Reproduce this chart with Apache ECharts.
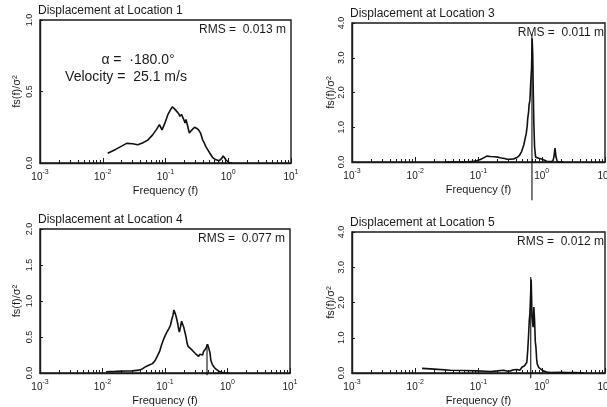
<!DOCTYPE html>
<html>
<head>
<meta charset="utf-8">
<script src="https://cdn.jsdelivr.net/npm/echarts@6/dist/echarts.min.js"></script>
<style>
html,body{margin:0;padding:0;background:#fff;}
#chart{width:607px;height:407px;}
</style>
</head>
<body>
<div id="chart"></div>
<script>
// ---- data ----
const panelTitles = ['Displacement at Location 1', 'Displacement at Location 3', 'Displacement at Location 4', 'Displacement at Location 5'];
const rmsLabels = ['RMS =  0.013 m', 'RMS =  0.011 m', 'RMS =  0.077 m', 'RMS =  0.012 m'];
const annotationLines = ['α =  ·180.0°', 'Velocity =  25.1 m/s'];
const xTickValues = [0.001, 0.01, 0.1, 1, 10];
const xTickExponents = ['-3', '-2', '-1', '0', '1'];
const xMinorTicks = [0.002,0.003,0.004,0.005,0.006,0.007,0.008,0.009,
  0.02,0.03,0.04,0.05,0.06,0.07,0.08,0.09,
  0.2,0.3,0.4,0.5,0.6,0.7,0.8,0.9,
  2,3,4,5,6,7,8,9];
const yMaxes = [1.0, 4.0, 2.0, 4.0];
const yIntervals = [0.5, 1.0, 0.5, 1.0];

const loc1Freq = [0.012,0.016,0.020,0.024,0.030,0.036,0.043,0.052,0.062,0.072,0.080,0.088,0.097,0.109,0.120,0.128,0.138,0.151,0.162,0.170,0.180,0.188,0.197,0.205,0.212,0.218,0.228,0.240,0.255,0.270,0.290,0.306,0.322,0.345,0.365,0.39,0.415,0.44,0.475,0.51,0.56,0.62,0.72,0.78,0.83,0.88,0.92,0.98,1.04,1.15];
const loc1Val  = [0.068,0.095,0.118,0.137,0.135,0.128,0.140,0.160,0.195,0.235,0.268,0.232,0.275,0.338,0.372,0.392,0.380,0.361,0.345,0.326,0.340,0.338,0.300,0.279,0.305,0.303,0.250,0.209,0.225,0.232,0.250,0.256,0.240,0.225,0.205,0.162,0.140,0.115,0.090,0.068,0.040,0.025,0.016,0.030,0.049,0.035,0.021,0.008,0.002,0];

const loc3Freq = [0.03,0.05,0.07,0.084,0.095,0.107,0.12,0.135,0.145,0.155,0.164,0.18,0.20,0.22,0.24,0.26,0.28,0.32,0.36,0.40,0.44,0.48,0.52,0.55,0.57,0.59,0.60,0.62,0.63,0.65,0.67,0.69,0.705,0.72,0.735,0.75,0.77,0.80,0.85,0.90,0.96,1.02,1.08,1.2,1.38,1.5,1.56,1.62,1.68,1.76,1.9,2.2];
const loc3Val  = [0,0,0.005,0.02,0.04,0.07,0.12,0.17,0.18,0.16,0.14,0.15,0.14,0.12,0.11,0.10,0.08,0.08,0.09,0.12,0.18,0.30,0.49,0.70,0.83,1.05,1.25,1.45,1.64,1.78,2.30,2.70,3.55,3.10,2.00,1.10,0.44,0.14,0.12,0.11,0.14,0.08,0.04,0.02,0.01,0.03,0.15,0.40,0.15,0.01,0,0];

const loc4Freq = [0.0114,0.016,0.0238,0.030,0.0386,0.044,0.049,0.056,0.063,0.069,0.075,0.082,0.088,0.095,0.102,0.109,0.116,0.122,0.128,0.134,0.139,0.144,0.148,0.155,0.161,0.166,0.170,0.175,0.18,0.184,0.188,0.194,0.199,0.208,0.217,0.225,0.234,0.25,0.27,0.29,0.306,0.325,0.345,0.36,0.38,0.40,0.414,0.43,0.45,0.465,0.48,0.495,0.51,0.525,0.54,0.57,0.6,0.64,0.68,0.74,0.81,0.9,1.04];
const loc4Val  = [0.018,0.022,0.028,0.03,0.04,0.06,0.088,0.11,0.13,0.17,0.23,0.30,0.39,0.47,0.53,0.58,0.62,0.66,0.74,0.80,0.875,0.85,0.81,0.74,0.67,0.60,0.57,0.62,0.67,0.72,0.74,0.70,0.64,0.57,0.50,0.42,0.37,0.35,0.32,0.30,0.27,0.25,0.23,0.26,0.27,0.25,0.30,0.28,0.34,0.32,0.40,0.36,0.34,0.28,0.18,0.12,0.09,0.06,0.04,0.02,0.01,0.003,0];

const loc5Freq = [0.0128,0.02,0.036,0.06,0.095,0.13,0.155,0.2,0.25,0.29,0.32,0.36,0.41,0.45,0.49,0.53,0.56,0.58,0.60,0.62,0.635,0.65,0.665,0.68,0.69,0.70,0.71,0.73,0.75,0.77,0.79,0.81,0.83,0.85,0.9,0.96,1.05,1.2,1.38,2.0,2.5,3.5,4.7];
const loc5Val  = [0.13,0.11,0.08,0.07,0.06,0.05,0.04,0.06,0.08,0.05,0.06,0.09,0.10,0.08,0.17,0.20,0.24,0.30,0.63,1.10,1.49,1.70,2.15,2.65,2.2,1.6,1.58,1.3,1.87,1.5,0.9,0.72,0.4,0.25,0.15,0.13,0.06,0.03,0.01,0.02,0.01,0.01,0];

// vertical marker lines [freq, yTop, yBottom]
const markerLoc3 = [0.70, 3.68, -1.1];
const markerLoc4 = [0.47, 0.40, -0.03];
const markerLoc5 = [0.67, 2.72, -0.15];

// ---- layout ----
const grids = [
  {left: 40, top: 20, width: 251, height: 143},
  {left: 352, top: 23, width: 253, height: 139},
  {left: 40, top: 229, width: 250, height: 144},
  {left: 352, top: 232, width: 253, height: 141}
];
const FONT = '"Liberation Sans", Arial, sans-serif';
const INK = '#1a1a1a';

const zip = (a, b) => a.map((x, i) => [x, b[i]]);
const seriesData = [zip(loc1Freq, loc1Val), zip(loc3Freq, loc3Val), zip(loc4Freq, loc4Val), zip(loc5Freq, loc5Val)];
const markers = [null, markerLoc3, markerLoc4, markerLoc5];

const xAxes = [], yAxes = [], series = [], graphics = [];
grids.forEach((g, i) => {
  xAxes.push({
    type: 'log', logBase: 10, gridIndex: i, min: 0.001, max: 10, position: 'bottom',
    axisLine: {show: true, lineStyle: {color: INK, width: 1.4}},
    axisTick: {show: true, inside: true, length: 5, customValues: xTickValues, lineStyle: {color: INK, width: 1}},
    axisLabel: {
      show: true, margin: 6, customValues: xTickValues,
      formatter: v => {
        const idx = xTickValues.findIndex(t => Math.abs(Math.log10(t) - Math.log10(v)) < 1e-6);
        return '{b|10}{s|' + (idx >= 0 ? xTickExponents[idx] : '') + '}';
      },
      rich: {
        b: {fontSize: 10, fontFamily: FONT, color: INK, verticalAlign: 'bottom'},
        s: {fontSize: 7, fontFamily: FONT, color: INK, verticalAlign: 'top', padding: [0, 0, 6, 0]}
      }
    },
    splitLine: {show: false},
    name: 'Frequency (f)', nameLocation: 'middle', nameGap: 22,
    nameTextStyle: {fontSize: 11, fontFamily: FONT, color: INK}
  });
  xAxes.push({
    type: 'log', logBase: 10, gridIndex: i, min: 0.001, max: 10, position: 'bottom',
    axisLine: {show: false},
    axisTick: {show: true, inside: true, length: 3, customValues: xMinorTicks, lineStyle: {color: INK, width: 1}},
    axisLabel: {show: false},
    splitLine: {show: false}
  });
  yAxes.push({
    type: 'value', gridIndex: i, min: 0, max: yMaxes[i], interval: yIntervals[i],
    axisLine: {show: true, lineStyle: {color: INK, width: 1.4}},
    axisTick: {show: true, inside: true, length: 3, lineStyle: {color: INK}},
    axisLabel: {rotate: 90, fontSize: 9, fontFamily: FONT, color: INK, margin: 6, formatter: v => v.toFixed(1)},
    splitLine: {show: false},
    name: 'fs(f)/σ²', nameLocation: 'middle', nameGap: i % 2 === 0 ? 18 : 14, nameRotate: 90,
    nameTextStyle: {fontSize: 11, fontFamily: FONT, color: INK}
  });
  series.push({
    type: 'line', xAxisIndex: i * 2, yAxisIndex: i, data: seriesData[i],
    showSymbol: false, symbol: 'none', smooth: false,
    lineStyle: {color: '#111', width: 1.6}, z: 3
  });
  if (markers[i]) {
    const m = markers[i];
    series.push({
      type: 'line', xAxisIndex: i * 2, yAxisIndex: i, clip: false,
      data: [[m[0], m[1]], [m[0], m[2]]],
      showSymbol: false, symbol: 'none',
      lineStyle: {color: '#111', width: 1.1}, z: 4
    });
  }
  graphics.push({
    type: 'text', x: g.left - 2, y: g.top - 3,
    style: {text: panelTitles[i], font: '12px ' + FONT, fill: INK, textAlign: 'left', textVerticalAlign: 'bottom'}
  });
  graphics.push({
    type: 'text', x: g.left + g.width - (i % 2 === 0 ? 5 : 1), y: g.top + 10,
    style: {text: rmsLabels[i], font: '12px ' + FONT, fill: INK, textAlign: 'right', textVerticalAlign: 'middle'}
  });
});

graphics.push({
  type: 'text', x: 138, y: 60,
  style: {text: annotationLines[0], font: '14px ' + FONT, fill: INK, textAlign: 'center', textVerticalAlign: 'middle'}
});
graphics.push({
  type: 'text', x: 126, y: 77,
  style: {text: annotationLines[1], font: '14px ' + FONT, fill: INK, textAlign: 'center', textVerticalAlign: 'middle'}
});

const chart = echarts.init(document.getElementById('chart'), null, {renderer: 'canvas'});
chart.setOption({
  backgroundColor: '#ffffff',
  animation: false,
  grid: grids.map(g => Object.assign({show: true, borderColor: INK, borderWidth: 1.4, backgroundColor: 'transparent', containLabel: false, outerBoundsMode: 'none'}, g)),
  xAxis: xAxes,
  yAxis: yAxes,
  series: series,
  graphic: graphics
});
</script>
</body>
</html>
